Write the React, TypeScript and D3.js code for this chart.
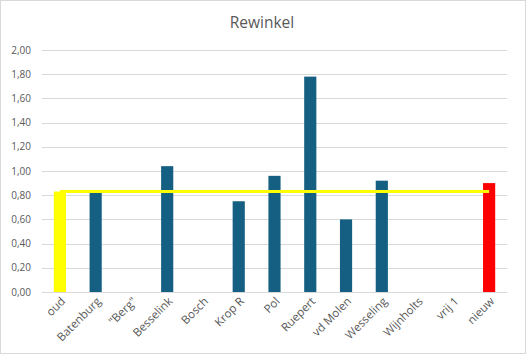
import React, { useEffect, useRef } from 'react';
import * as d3 from 'd3';

const categories = ['oud', 'Batenburg', '"Berg"', 'Besselink', 'Bosch', 'Krop R', 'Pol', 'Ruepert', 'vd Molen', 'Wesseling', 'Wijnholts', 'vrij 1', 'nieuw'];
const barValues = [0.83, 0.83, null, 1.04, null, 0.75, 0.96, 1.78, 0.6, 0.92, null, null, 0.9];
const lineValues = [0.83, 0.83, 0.83, 0.83, 0.83, 0.83, 0.83, 0.83, 0.83, 0.83, 0.83, 0.83, 0.83];
const yTicks = [0, 0.2, 0.4, 0.6, 0.8, 1.0, 1.2, 1.4, 1.6, 1.8, 2.0];

const App = () => {
    const ref = useRef<SVGSVGElement>(null);

    useEffect(() => {
        const svg = d3.select(ref.current);
        svg.selectAll('*').remove();

        const width = 526;
        const height = 354;
        const font = '"Open Sans", "Liberation Sans", sans-serif';
        const textColor = '#595959';

        // outer chart frame
        svg.append('rect')
            .attr('x', 0.5).attr('y', 0.5)
            .attr('width', width - 1).attr('height', height - 1)
            .attr('fill', '#fff')
            .attr('stroke', '#d9d9d9');

        const x = d3.scaleBand().domain(categories).range([42, 507]).paddingInner(0.66).paddingOuter(0.33);
        const y = d3.scaleLinear().domain([0, 2]).range([292, 50]);

        // title
        svg.append('text')
            .attr('x', 262).attr('y', 28)
            .attr('text-anchor', 'middle')
            .style('font-family', font)
            .style('font-size', '15.5px')
            .style('fill', textColor)
            .text('Rewinkel');

        // gridlines
        svg.append('g')
            .selectAll('line')
            .data(yTicks)
            .enter()
            .append('line')
            .attr('x1', 42).attr('x2', 507)
            .attr('y1', d => Math.round(y(d)) + 0.5)
            .attr('y2', d => Math.round(y(d)) + 0.5)
            .attr('stroke', '#d9d9d9')
            .attr('stroke-width', 1);

        // y tick labels
        svg.append('g')
            .selectAll('text')
            .data(yTicks)
            .enter()
            .append('text')
            .attr('x', 31)
            .attr('y', d => y(d))
            .attr('dy', '0.35em')
            .attr('text-anchor', 'end')
            .style('font-family', font)
            .style('font-size', '10px')
            .style('fill', textColor)
            .text(d => d.toFixed(2).replace('.', ','));

        // bars
        const barColor = (i: number) => {
            if (i === 0) return '#ffff00';
            if (i === categories.length - 1) return '#ff0000';
            return '#156082';
        };
        svg.append('g')
            .selectAll('rect')
            .data(barValues.map((v, i) => ({ v, i })).filter(d => d.v !== null))
            .enter()
            .append('rect')
            .attr('x', d => x(categories[d.i])!)
            .attr('y', d => y(d.v as number))
            .attr('width', x.bandwidth())
            .attr('height', d => y(0) - y(d.v as number))
            .attr('fill', d => barColor(d.i));

        // horizontal line series
        const line = d3.line<number>()
            .x((d, i) => x(categories[i])! + x.bandwidth() / 2)
            .y(d => y(d));
        svg.append('path')
            .datum(lineValues)
            .attr('d', line)
            .attr('fill', 'none')
            .attr('stroke', '#ffff00')
            .attr('stroke-width', 3);

        // x labels
        svg.append('g')
            .selectAll('text')
            .data(categories)
            .enter()
            .append('text')
            .attr('transform', d => `translate(${x(d)! + x.bandwidth() / 2 + 6}, 302) rotate(-45)`)
            .attr('text-anchor', 'end')
            .style('font-family', font)
            .style('font-size', '11.5px')
            .style('fill', textColor)
            .text(d => d);
    }, []);

    return (
        <div style={{ position: 'fixed', top: 0, left: 0 }}>
            <svg ref={ref} width={526} height={354} style={{ display: 'block' }}></svg>
        </div>
    );
};

export default App;
